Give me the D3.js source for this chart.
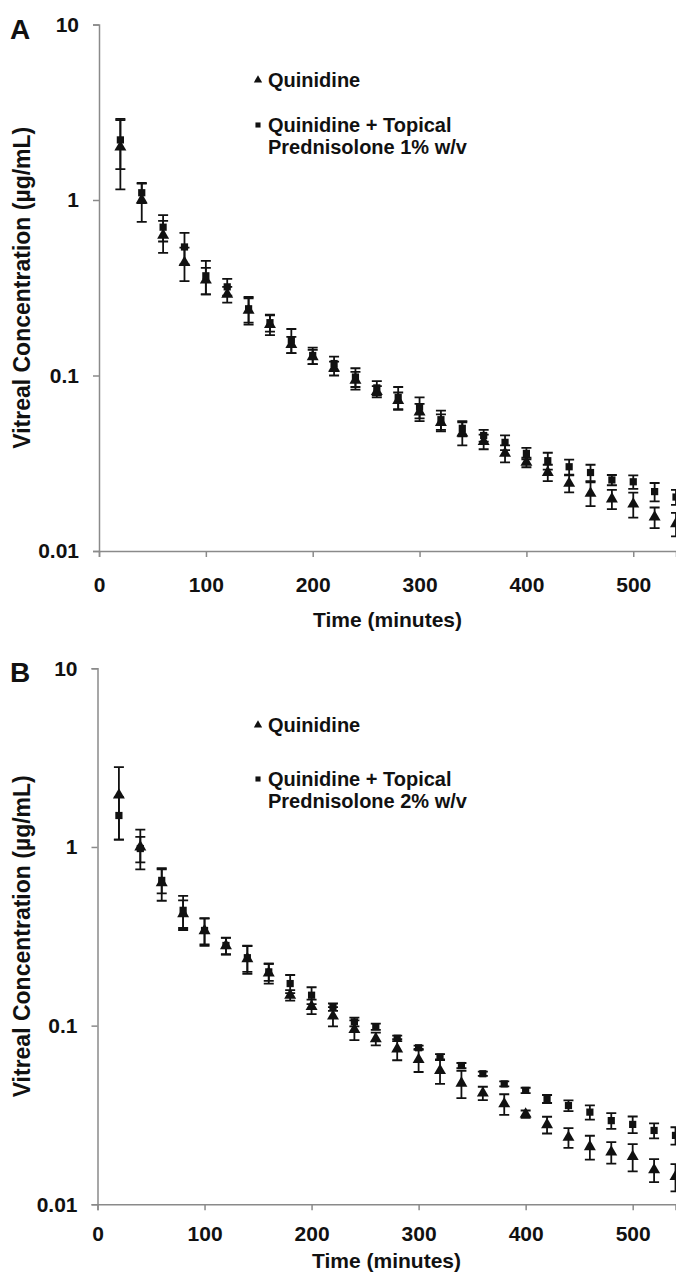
<!DOCTYPE html>
<html>
<head>
<meta charset="utf-8">
<script src="https://cdn.jsdelivr.net/npm/d3@7"></script>
<style>
  body { margin: 0; background: #fff; }
  text { font-family: "Liberation Sans", Arial, sans-serif; font-weight: bold; fill: #111; }
</style>
</head>
<body>
<script>
// sampling times (minutes)
const time = [20, 40, 60, 80, 100, 120, 140, 160, 180, 200, 220, 240, 260, 280,
  300, 320, 340, 360, 380, 400, 420, 440, 460, 480, 500, 520, 540];

// panel A: quinidine alone vs + topical prednisolone 1% (µg/mL)
const quinA = [2.0, 1.0, 0.63, 0.44, 0.35, 0.29, 0.235, 0.195, 0.15, 0.128, 0.11, 0.094, 0.081, 0.072,
  0.062, 0.054, 0.047, 0.042, 0.036, 0.032, 0.028, 0.0243, 0.0213, 0.0198, 0.0185, 0.0156, 0.0143];
const quinAErr = [0.85, 0.25, 0.13, 0.095, 0.06, 0.03, 0.04, 0.025, 0.016, 0.012, 0.01, 0.011, 0.006, 0.008,
  0.007, 0.006, 0.007, 0.004, 0.004, 0.002, 0.003, 0.0027, 0.0033, 0.0025, 0.003, 0.0021, 0.0022];
const predA = [2.2, 1.1, 0.70, 0.54, 0.37, 0.32, 0.24, 0.2, 0.159, 0.13, 0.117, 0.098, 0.085, 0.075,
  0.066, 0.056, 0.05, 0.0455, 0.0416, 0.036, 0.0327, 0.0302, 0.028, 0.0254, 0.0248, 0.0218, 0.0203];
const predAErr = [0.7, 0.14, 0.12, 0.11, 0.08, 0.035, 0.04, 0.022, 0.025, 0.014, 0.011, 0.012, 0.008, 0.011,
  0.009, 0.007, 0.005, 0.0035, 0.004, 0.0027, 0.0036, 0.003, 0.003, 0.0017, 0.0022, 0.0026, 0.002];

// panel B: quinidine alone vs + topical prednisolone 2% (µg/mL)
const quinB = [1.95, 1.0, 0.63, 0.423, 0.34, 0.28, 0.237, 0.197, 0.148, 0.128, 0.113, 0.095, 0.0845, 0.074,
  0.0646, 0.056, 0.0476, 0.0419, 0.0365, 0.032, 0.0279, 0.0237, 0.021, 0.0196, 0.0185, 0.0156, 0.0143];
const quinBErr = [0.85, 0.25, 0.13, 0.08, 0.06, 0.03, 0.042, 0.025, 0.01, 0.012, 0.014, 0.012, 0.007, 0.01,
  0.0096, 0.0088, 0.0083, 0.0036, 0.0048, 0.0015, 0.003, 0.003, 0.0032, 0.0027, 0.0032, 0.0023, 0.0025];
const predB = [1.5, 0.98, 0.65, 0.442, 0.341, 0.281, 0.24, 0.2, 0.172, 0.148, 0.127, 0.105, 0.0987, 0.085,
  0.0752, 0.0667, 0.0598, 0.0538, 0.0472, 0.0434, 0.0389, 0.0357, 0.0328, 0.0294, 0.028, 0.0259, 0.0243];
const predBErr = [0.4, 0.16, 0.1, 0.09, 0.056, 0.03, 0.04, 0.022, 0.02, 0.016, 0.006, 0.006, 0.004, 0.003,
  0.002, 0.0025, 0.002, 0.0015, 0.0015, 0.0015, 0.002, 0.0025, 0.003, 0.003, 0.003, 0.0025, 0.0027];

const yTicks = [0.01, 0.1, 1, 10];
const yTickLabels = ["0.01", "0.1", "1", "10"];
const xTicks = [0, 100, 200, 300, 400, 500];

const W = 676, H = 1276;

const panels = [
  { label: "A", quin: quinA, quinErr: quinAErr, pred: predA, predErr: predAErr,
    dose: "Prednisolone 1% w/v", left: 99, right: 676, top: 24.5, bottom: 551,
    xPad: 20, titleY: 627, legendY: 80, legendGap: 45 },
  { label: "B", quin: quinB, quinErr: quinBErr, pred: predB, predErr: predBErr,
    dose: "Prednisolone 2% w/v", left: 97.5, right: 675.5, top: 668.3, bottom: 1204.3,
    xPad: 16, titleY: 1268, legendY: 725, legendGap: 54 }
];

const svg = d3.select("body").append("svg")
    .attr("width", W)
    .attr("height", H)
    .attr("viewBox", [0, 0, W, H]);

const tri = d3.symbol(d3.symbolTriangle, 62);
const sq = d3.symbol(d3.symbolSquare, 52);

panels.forEach(p => {
  const x = d3.scaleLinear().domain([0, 540]).range([p.left, p.right]);
  const y = d3.scaleLog().domain([0.01, 10]).range([p.bottom, p.top]);
  const g = svg.append("g");

  g.append("g")
      .attr("transform", `translate(${p.left},0)`)
      .call(d3.axisLeft(y).tickValues(yTicks).tickSize(6).tickPadding(14)
        .tickFormat((d, i) => yTickLabels[i]))
      .call(a => a.select(".domain").attr("stroke", "#8a8a8a").attr("stroke-width", 1.5))
      .call(a => a.selectAll(".tick line").attr("stroke", "#8a8a8a").attr("stroke-width", 1.5))
      .call(a => a.selectAll(".tick text").attr("font-size", 21).attr("font-family", null));

  g.append("g")
      .attr("transform", `translate(0,${p.bottom})`)
      .call(d3.axisBottom(x).tickValues(xTicks).tickSize(6).tickPadding(p.xPad))
      .call(a => a.select(".domain").attr("stroke", "#8a8a8a").attr("stroke-width", 1.5))
      .call(a => a.selectAll(".tick line").attr("stroke", "#8a8a8a").attr("stroke-width", 1.5))
      .call(a => a.selectAll(".tick text").attr("font-size", 21).attr("font-family", null));

  g.append("text")
      .attr("x", (p.left + p.right) / 2)
      .attr("y", p.titleY)
      .attr("text-anchor", "middle")
      .attr("font-size", 21)
      .text("Time (minutes)");

  g.append("text")
      .attr("transform", `translate(30,${(p.top + p.bottom) / 2}) rotate(-90)`)
      .attr("text-anchor", "middle")
      .attr("font-size", 23)
      .text("Vitreal Concentration (µg/mL)");

  g.append("text")
      .attr("x", 10)
      .attr("y", p.top + 14)
      .attr("font-size", 28)
      .text(p.label);

  const series = [
    { v: p.quin, e: p.quinErr, sym: tri },
    { v: p.pred, e: p.predErr, sym: sq }
  ];

  series.forEach(s => {
    const pts = time.map((t, i) => ({ t, v: s.v[i], e: s.e[i] }));
    const eb = g.append("g").attr("stroke", "#111").attr("stroke-width", 1.8).attr("fill", "none");
    eb.selectAll("line.v")
      .data(pts)
      .join("line")
        .attr("class", "v")
        .attr("x1", d => x(d.t)).attr("x2", d => x(d.t))
        .attr("y1", d => y(d.v + d.e)).attr("y2", d => y(d.v - d.e));
    eb.selectAll("path.cap")
      .data(pts)
      .join("path")
        .attr("class", "cap")
        .attr("d", d => `M${x(d.t) - 5},${y(d.v + d.e)}h10M${x(d.t) - 5},${y(d.v - d.e)}h10`);
  });

  series.forEach(s => {
    g.append("g")
      .selectAll("path")
      .data(time.map((t, i) => ({ t, v: s.v[i] })))
      .join("path")
        .attr("transform", d => `translate(${x(d.t)},${y(d.v)})`)
        .attr("d", s.sym)
        .attr("fill", "#111");
  });

  // legend
  const lx = 258, ly = p.legendY, gap = p.legendGap;
  const lg = g.append("g");
  lg.append("path").attr("transform", `translate(${lx},${ly})`).attr("d", d3.symbol(d3.symbolTriangle, 30)).attr("fill", "#111");
  lg.append("text").attr("x", lx + 10).attr("y", ly + 7).attr("font-size", 20).text("Quinidine");
  lg.append("path").attr("transform", `translate(${lx},${ly + gap})`).attr("d", d3.symbol(d3.symbolSquare, 26)).attr("fill", "#111");
  lg.append("text").attr("x", lx + 10).attr("y", ly + gap + 7).attr("font-size", 20).text("Quinidine + Topical");
  lg.append("text").attr("x", lx + 10).attr("y", ly + gap + 29).attr("font-size", 20).text(p.dose);
});
</script>
</body>
</html>
